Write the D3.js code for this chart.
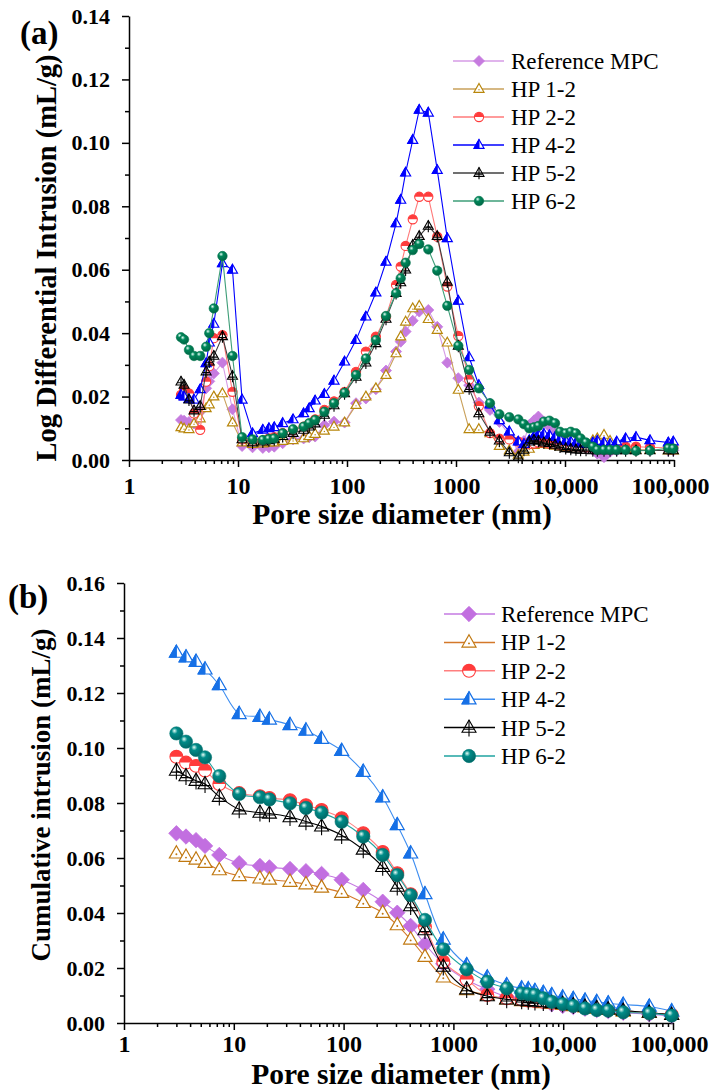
<!DOCTYPE html>
<html>
<head>
<meta charset="utf-8">
<script src="https://cdn.jsdelivr.net/npm/d3@7"></script>
<style>
  body { margin: 0; background: #fff; }
  svg { display: block; }
</style>
</head>
<body>
<svg id="chart" width="713" height="1090"></svg>
<script>
// ---------- data ----------
const seriesNames = ["Reference MPC", "HP 1-2", "HP 2-2", "HP 4-2", "HP 5-2", "HP 6-2"];

// Panel (a): log differential intrusion vs pore size diameter (nm)
const diameterA = [3.0, 3.2, 3.55, 3.95, 4.5, 5.1, 5.45, 6.0, 7.2, 8.9, 10.9, 13.6, 16.9, 19.2, 21.5, 25.7,
  32, 40, 45, 51, 62, 76, 95, 121, 149, 184, 228, 282, 311, 345, 401, 460, 557, 673, 832, 1050, 1320,
  1620, 2050, 2500, 3085, 3730, 4200, 4700, 5200, 5700, 6400, 7200, 8100, 9000, 10150, 11300, 12600,
  13900, 15600, 18000, 19800, 22800, 25900, 29800, 36000, 44800, 60200, 88700, 98600];

const refMPC_A = [0.0126, 0.0124, 0.012, 0.0115, 0.0152, 0.0226, 0.0248, 0.0273, 0.0307, 0.016, 0.0044, 0.004,
  0.0038, 0.004, 0.0042, 0.0053, 0.0065, 0.0068, 0.0072, 0.0074, 0.011, 0.0121, 0.0118, 0.0179, 0.0194, 0.0223,
  0.0282, 0.0342, 0.0373, 0.0405, 0.0439, 0.0468, 0.0473, 0.042, 0.0307, 0.0258, 0.0236, 0.0181, 0.0158, 0.012,
  0.0079, 0.0026, 0.006, 0.011, 0.0125, 0.0137, 0.012, 0.0105, 0.0085, 0.0068, 0.006, 0.0053, 0.0048, 0.0042,
  0.0038, 0.0032, 0.002, 0.0009, 0.0026, 0.003, 0.0032, 0.0032, 0.003, 0.003, 0.003];
const hp12_A = [0.0103, 0.0099, 0.0097, 0.0115, 0.0131, 0.0163, 0.0175, 0.02, 0.021, 0.0118, 0.0055, 0.005,
  0.0052, 0.0055, 0.0055, 0.006, 0.0062, 0.0068, 0.0075, 0.0082, 0.0092, 0.0105, 0.0118, 0.0173, 0.02, 0.0226,
  0.0268, 0.0336, 0.0389, 0.0436, 0.0478, 0.0486, 0.0444, 0.041, 0.037, 0.0221, 0.0097, 0.0097, 0.0084, 0.0044,
  0.003, 0.0016, 0.0026, 0.0035, 0.0047, 0.005, 0.005, 0.0048, 0.0045, 0.0042, 0.004, 0.004, 0.0042, 0.0045,
  0.005, 0.0062, 0.0068, 0.0079, 0.006, 0.004, 0.0035, 0.0032, 0.0032, 0.003, 0.003];
const hp22_A = [0.0205, 0.022, 0.021, 0.0147, 0.0095, 0.0247, 0.0296, 0.0384, 0.0394, 0.0215, 0.0065, 0.006,
  0.0062, 0.0068, 0.0072, 0.0085, 0.0095, 0.0105, 0.0115, 0.0128, 0.0158, 0.0185, 0.0215, 0.0278, 0.0342, 0.0389,
  0.0452, 0.0552, 0.061, 0.0675, 0.0759, 0.083, 0.083, 0.0704, 0.0547, 0.0391, 0.0254, 0.017, 0.0085, 0.0067,
  0.0065, 0.0058, 0.0052, 0.005, 0.0052, 0.0055, 0.0055, 0.0052, 0.005, 0.0048, 0.0045, 0.0045, 0.0043, 0.0042,
  0.004, 0.004, 0.004, 0.0038, 0.0038, 0.004, 0.0042, 0.0042, 0.004, 0.0038, 0.004];
const hp42_A = [0.0205, 0.02, 0.0192, 0.019, 0.0223, 0.0305, 0.037, 0.0429, 0.062, 0.06, 0.019, 0.0084,
  0.0095, 0.01, 0.0103, 0.0116, 0.0128, 0.0147, 0.0163, 0.0187, 0.0208, 0.025, 0.031, 0.0378, 0.0452, 0.0528,
  0.0625, 0.0746, 0.082, 0.0906, 0.1009, 0.1104, 0.1095, 0.0914, 0.0699, 0.0502, 0.0324, 0.0236, 0.0175, 0.0125,
  0.009, 0.0058, 0.005, 0.0062, 0.0075, 0.008, 0.0082, 0.0078, 0.0072, 0.0065, 0.006, 0.0058, 0.0055, 0.0052,
  0.005, 0.0055, 0.006, 0.0055, 0.005, 0.0058, 0.0068, 0.0072, 0.0062, 0.0055, 0.0058];
const hp52_A = [0.0247, 0.0237, 0.019, 0.0156, 0.017, 0.0279, 0.031, 0.0328, 0.039, 0.0265, 0.0065, 0.0055,
  0.0058, 0.0062, 0.0065, 0.0075, 0.0085, 0.0095, 0.0105, 0.0115, 0.0142, 0.0172, 0.021, 0.0262, 0.0307, 0.0368,
  0.0445, 0.0526, 0.056, 0.06, 0.0678, 0.0706, 0.0738, 0.0706, 0.0562, 0.036, 0.0226, 0.0147, 0.0089, 0.0061,
  0.0024, 0.001, 0.0032, 0.0058, 0.0063, 0.006, 0.0055, 0.0053, 0.0048, 0.0042, 0.0037, 0.0035, 0.0033, 0.0032,
  0.0032, 0.003, 0.003, 0.003, 0.003, 0.003, 0.003, 0.003, 0.003, 0.003, 0.003];
const hp62_A = [0.0387, 0.038, 0.0347, 0.0328, 0.0328, 0.0357, 0.04, 0.0478, 0.0643, 0.0328, 0.0072, 0.0065,
  0.0063, 0.0066, 0.0068, 0.0084, 0.0097, 0.0105, 0.0116, 0.0126, 0.0152, 0.0179, 0.0212, 0.0268, 0.032, 0.0378,
  0.0454, 0.0526, 0.0573, 0.0622, 0.0662, 0.0681, 0.0664, 0.0597, 0.0486, 0.036, 0.0284, 0.0226, 0.0179, 0.0144,
  0.0135, 0.0128, 0.0113, 0.01, 0.0103, 0.0107, 0.0121, 0.0124, 0.0116, 0.0089, 0.0084, 0.0089, 0.0084, 0.0068,
  0.0055, 0.0042, 0.0032, 0.0032, 0.0032, 0.0032, 0.0032, 0.0029, 0.003, 0.0037, 0.0036];

// Panel (b): cumulative intrusion vs pore size diameter (nm)
const diameterB = [3.0, 3.67, 4.53, 5.47, 7.38, 11.2, 17.3, 21.1, 32.5, 45.4, 63, 96, 151, 227, 308, 408, 551,
  809, 1321, 2036, 3057, 4185, 4810, 5530, 6590, 7860, 9890, 12360, 15800, 20200, 25700, 35200, 60800, 97300];

const refMPC_B = [0.069, 0.0678, 0.0665, 0.0644, 0.0611, 0.0581, 0.0571, 0.0566, 0.056, 0.0552, 0.0542, 0.0521,
  0.0484, 0.0441, 0.0401, 0.0353, 0.0287, 0.0215, 0.0156, 0.0123, 0.0096, 0.009, 0.0086, 0.0082, 0.0077, 0.0068,
  0.0062, 0.0058, 0.0052, 0.0047, 0.0043, 0.0037, 0.0032, 0.0025];
const hp12_B = [0.0617, 0.0605, 0.0595, 0.0583, 0.0556, 0.0535, 0.0526, 0.0522, 0.0514, 0.0505, 0.0493, 0.0474,
  0.0437, 0.0401, 0.0356, 0.0304, 0.0241, 0.0166, 0.012, 0.0102, 0.0086, 0.008, 0.0078, 0.0076, 0.0073, 0.007,
  0.0066, 0.0062, 0.0057, 0.0052, 0.0048, 0.0042, 0.0037, 0.003];
const hp22_B = [0.0968, 0.0947, 0.0935, 0.0918, 0.0869, 0.0836, 0.0825, 0.0818, 0.081, 0.0792, 0.0775, 0.0745,
  0.069, 0.0622, 0.0545, 0.0468, 0.035, 0.0223, 0.0158, 0.0102, 0.009, 0.0085, 0.0082, 0.008, 0.0077, 0.0073,
  0.0068, 0.0063, 0.0057, 0.0052, 0.0048, 0.0042, 0.0036, 0.003];
const hp42_B = [0.1347, 0.133, 0.1314, 0.1286, 0.1229, 0.1124, 0.1114, 0.1104, 0.1084, 0.1064, 0.1034, 0.099,
  0.0914, 0.0821, 0.072, 0.0617, 0.0469, 0.0304, 0.0211, 0.0166, 0.0138, 0.0126, 0.0123, 0.0117, 0.011, 0.0102,
  0.0093, 0.0088, 0.0082, 0.0077, 0.0072, 0.0067, 0.006, 0.0043];
const hp52_B = [0.0918, 0.0898, 0.0881, 0.0869, 0.0823, 0.0777, 0.0765, 0.0762, 0.0749, 0.0733, 0.0715, 0.0683,
  0.0631, 0.0568, 0.0496, 0.0425, 0.0338, 0.0205, 0.0123, 0.0098, 0.0086, 0.0082, 0.008, 0.0078, 0.0076, 0.0073,
  0.007, 0.0065, 0.006, 0.0055, 0.005, 0.0045, 0.0038, 0.003];
const hp62_B = [0.1053, 0.1023, 0.0993, 0.0966, 0.0898, 0.0833, 0.0821, 0.0813, 0.0799, 0.0782, 0.0765, 0.0732,
  0.0678, 0.0611, 0.0538, 0.0465, 0.0375, 0.0268, 0.0195, 0.015, 0.0126, 0.0108, 0.0105, 0.0102, 0.009, 0.0077,
  0.0069, 0.0062, 0.0053, 0.0047, 0.0045, 0.0039, 0.0035, 0.0027];

const xMajorTicks = [1, 10, 100, 1000, 10000, 100000];
const xTickLabels = ["1", "10", "100", "1000", "10,000", "100,000"];
const yTicksA = [0, 0.02, 0.04, 0.06, 0.08, 0.10, 0.12, 0.14];
const yTicksB = [0, 0.02, 0.04, 0.06, 0.08, 0.10, 0.12, 0.14, 0.16];

// ---------- styles ----------
const markerTypes = ["diamond", "triDot", "halfCircle", "halfTri", "triCross", "sphere"];
const styleA = [
  { line: "#D69BE6", mark: "#C67BDF" },
  { line: "#C9A05A", mark: "#B8860B" },
  { line: "#FF7A7A", mark: "#FF3C3C" },
  { line: "#0000FF", mark: "#0000FF" },
  { line: "#404040", mark: "#000000" },
  { line: "#3E9E78", mark: "#00875A" }
];
const styleB = [
  { line: "#C57AE2", mark: "#C26FE0" },
  { line: "#D4782A", mark: "#C07810" },
  { line: "#FF7F7F", mark: "#FF3B3B" },
  { line: "#3D8DF0", mark: "#1670E6" },
  { line: "#000000", mark: "#000000" },
  { line: "#1FA3A0", mark: "#008B88" }
];

const svg = d3.select("#chart");
const defs = svg.append("defs");

function sphereGradient(id, col) {
  const g = defs.append("radialGradient").attr("id", id)
    .attr("cx", "40%").attr("cy", "35%").attr("r", "65%").attr("fx", "35%").attr("fy", "30%");
  g.append("stop").attr("offset", "0%").attr("stop-color", "#e8fff8");
  g.append("stop").attr("offset", "35%").attr("stop-color", col);
  g.append("stop").attr("offset", "100%").attr("stop-color", d3.color(col).darker(0.8));
}
sphereGradient("sphA", styleA[5].mark);
sphereGradient("sphB", styleB[5].mark);

// draws one marker of a given kind centred on (cx, cy); s is the half-width
function drawMarker(parent, type, col, cx, cy, s, gradId) {
  const g = parent.append("g").attr("transform", `translate(${cx},${cy})`);
  const h = s * 1.75;
  const top = -h * 0.62, base = h * 0.38;
  const tri = `M0,${top}L${s},${base}L${-s},${base}Z`;
  if (type === "diamond") {
    const r = s * 1.1;
    g.append("path").attr("d", `M0,${-r}L${r},0L0,${r}L${-r},0Z`).attr("fill", col).attr("stroke", col).attr("stroke-width", 0.8);
  } else if (type === "triDot") {
    g.append("path").attr("d", tri).attr("fill", "#fff").attr("stroke", col).attr("stroke-width", 1.2);
    g.append("circle").attr("cx", 0).attr("cy", base - h * 0.3).attr("r", s * 0.14).attr("fill", col);
  } else if (type === "halfCircle") {
    const r = s * 0.92;
    g.append("circle").attr("r", r).attr("fill", "#fff").attr("stroke", col).attr("stroke-width", 1.1);
    g.append("path").attr("d", `M${-r},0A${r},${r} 0 0 1 ${r},0Z`).attr("fill", col);
  } else if (type === "halfTri") {
    g.append("path").attr("d", tri).attr("fill", "#fff").attr("stroke", col).attr("stroke-width", 1.2);
    g.append("path").attr("d", `M0,${top}L0,${base}L${-s},${base}Z`).attr("fill", col).attr("stroke", col).attr("stroke-width", 1);
  } else if (type === "triCross") {
    g.append("path").attr("d", tri).attr("fill", "#fff").attr("fill-opacity", 0).attr("stroke", col).attr("stroke-width", 1.1);
    g.append("path").attr("d", `M0,${top}L0,${base + s * 0.6}M${-s * 0.75},${base - h * 0.25}L${s * 0.75},${base - h * 0.25}`)
      .attr("stroke", col).attr("stroke-width", 1.1);
  } else if (type === "sphere") {
    g.append("circle").attr("r", s * 0.95).attr("fill", `url(#${gradId})`).attr("stroke", d3.color(col).darker(0.4)).attr("stroke-width", 0.6);
  }
}

function drawAxes(x, y, x0, yTicks, minorY, xPad) {
  const xAxis = d3.axisBottom(x).tickValues(xMajorTicks).tickSize(7).tickSizeOuter(0).tickPadding(xPad)
    .tickFormat((d, i) => xTickLabels[i]);
  const minorXVals = [];
  for (let e = 0; e < 5; e++) for (let k = 2; k <= 9; k++) minorXVals.push(k * Math.pow(10, e));
  const y0 = y.range()[0];
  svg.append("g").attr("transform", `translate(0,${y0})`)
    .call(d3.axisBottom(x).tickValues(minorXVals).tickSize(4).tickSizeOuter(0).tickFormat(""))
    .call(g => g.select(".domain").remove())
    .selectAll("line").attr("stroke-width", 1.5);
  const gx = svg.append("g").attr("transform", `translate(0,${y0})`).call(xAxis);
  gx.select(".domain").attr("stroke-width", 1.5);
  gx.selectAll(".tick line").attr("stroke-width", 1.5);
  gx.selectAll("text").attr("font-family", "Liberation Serif").attr("font-weight", "bold").attr("font-size", 24).attr("fill", "#000")
    .attr("dx", (d) => (d === 100000 ? -4 : 0));

  svg.append("g").attr("transform", `translate(${x0},0)`)
    .call(d3.axisLeft(y).tickValues(minorY).tickSize(4).tickSizeOuter(0).tickFormat(""))
    .call(g => g.select(".domain").remove())
    .selectAll("line").attr("stroke-width", 1.5);
  const gy = svg.append("g").attr("transform", `translate(${x0},0)`)
    .call(d3.axisLeft(y).tickValues(yTicks).tickSize(7).tickSizeOuter(0).tickPadding(12).tickFormat(d3.format(".2f")));
  gy.select(".domain").attr("stroke-width", 1.5);
  gy.selectAll(".tick line").attr("stroke-width", 1.5);
  gy.selectAll("text").attr("font-family", "Liberation Serif").attr("font-weight", "bold").attr("font-size", 22).attr("fill", "#000");
}

function drawSeries(x, y, xs, list, styles, curve, size, gradId) {
  list.forEach((vals, i) => {
    const pts = xs.map((d, j) => [d, vals[j]]);
    const line = d3.line().x(p => x(p[0])).y(p => y(p[1])).curve(curve);
    svg.append("path").attr("d", line(pts)).attr("fill", "none").attr("stroke", styles[i].line).attr("stroke-width", 1.1);
    const g = svg.append("g");
    pts.forEach(p => drawMarker(g, markerTypes[i], styles[i].mark, x(p[0]), y(p[1]), size, gradId));
  });
}

function drawLegend(x1, x2, xm, xt, yStart, dy, styles, size, gradId) {
  seriesNames.forEach((name, i) => {
    const yy = yStart + i * dy;
    svg.append("line").attr("x1", x1).attr("x2", x2).attr("y1", yy).attr("y2", yy)
      .attr("stroke", styles[i].line).attr("stroke-width", 1.5);
    drawMarker(svg, markerTypes[i], styles[i].mark, xm, yy, size, gradId);
    svg.append("text").attr("x", xt).attr("y", yy + 8).text(name)
      .attr("font-family", "Liberation Serif").attr("font-size", 23).attr("fill", "#000");
  });
}

function label(txt, xx, yy, size, rotate) {
  const t = svg.append("text").text(txt).attr("font-family", "Liberation Serif").attr("font-weight", "bold")
    .attr("font-size", size).attr("fill", "#000");
  if (rotate) t.attr("transform", `translate(${xx},${yy}) rotate(-90)`).attr("text-anchor", "middle");
  else t.attr("x", xx).attr("y", yy);
  return t;
}

// ---------- panel (a) ----------
const xA = d3.scaleLog().domain([1, 1e5]).range([129, 674]);
const yA = d3.scaleLinear().domain([0, 0.14]).range([460, 16]);
drawAxes(xA, yA, 129, yTicksA, [0.01, 0.03, 0.05, 0.07, 0.09, 0.11, 0.13], 10);
drawSeries(xA, yA, diameterA, [refMPC_A, hp12_A, hp22_A, hp42_A, hp52_A, hp62_A], styleA, d3.curveLinear, 5, "sphA");
drawLegend(453, 504, 479, 511, 61, 28, styleA, 5, "sphA");
label("Pore size diameter (nm)", 402, 524, 29.5, false).attr("text-anchor", "middle");
label("Log Differential Intrusion (mL/g)", 56, 258, 28.5, true);
label("(a)", 20, 44, 33, false);

// ---------- panel (b) ----------
const xB = d3.scaleLog().domain([1, 1e5]).range([124, 673]);
const yB = d3.scaleLinear().domain([0, 0.16]).range([1023, 583]);
drawAxes(xB, yB, 124, yTicksB, [0.01, 0.03, 0.05, 0.07, 0.09, 0.11, 0.13, 0.15], 5);
drawSeries(xB, yB, diameterB, [refMPC_B, hp12_B, hp22_B, hp42_B, hp52_B, hp62_B], styleB, d3.curveCatmullRom.alpha(0.5), 7, "sphB");
drawLegend(444, 495, 469, 501, 614, 28.4, styleB, 7, "sphB");
label("Pore size diameter (nm)", 401, 1084, 29.5, false).attr("text-anchor", "middle");
label("Cumulative intrusion (mL/g)", 50, 795, 27, true);
label("(b)", 8, 608, 33, false);
</script>
</body>
</html>
